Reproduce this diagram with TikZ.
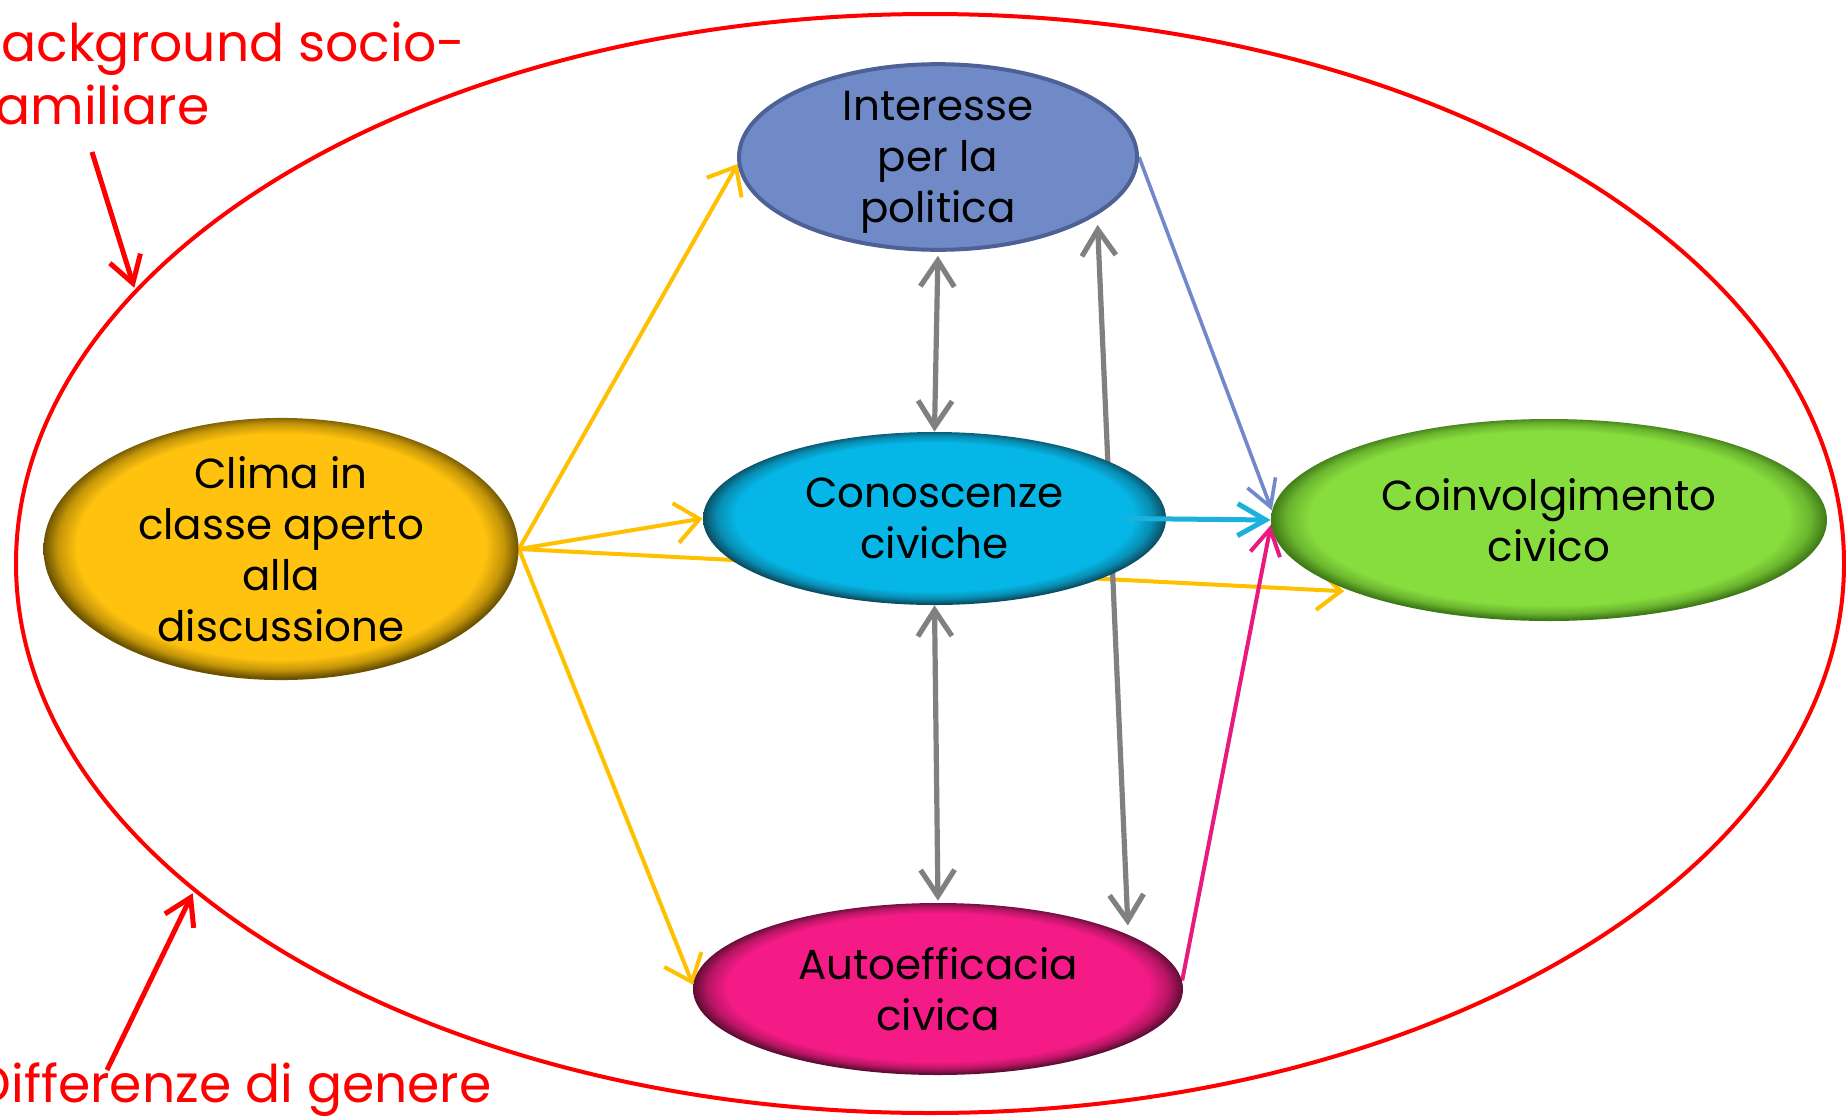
\documentclass[tikz,border=0pt]{standalone}
\usepackage{fontspec}
\setmainfont{Poppins}
\usetikzlibrary{arrows.meta,shapes.geometric}
\pgfdeclarelayer{bg}
\pgfsetlayers{bg,main}

\definecolor{climaC}{HTML}{FFC20E}
\definecolor{climaE}{HTML}{6B5200}
\definecolor{conoC}{HTML}{06B6E6}
\definecolor{conoE}{HTML}{0B4E63}
\definecolor{coinvC}{HTML}{88DD3E}
\definecolor{coinvE}{HTML}{3F7A18}
\definecolor{autoC}{HTML}{F41B86}
\definecolor{autoE}{HTML}{5E0D33}
\definecolor{interC}{HTML}{708AC8}
\definecolor{interE}{HTML}{4E6196}
\definecolor{yel}{HTML}{FFC000}
\definecolor{gry}{HTML}{808080}
\definecolor{cyn}{HTML}{1BB1DD}
\definecolor{blu}{HTML}{7189CC}
\definecolor{pnk}{HTML}{E8197F}
\definecolor{lblred}{HTML}{FF0000}

\pgfdeclareradialshading{climaS}{\pgfpoint{0bp}{0.8bp}}{color(0bp)=(climaC); color(21.5bp)=(climaC); color(23.5bp)=(climaC!60!climaE); color(25bp)=(climaE); color(50bp)=(climaE)}
\pgfdeclareradialshading{conoS}{\pgfpoint{0bp}{0.8bp}}{color(0bp)=(conoC); color(21.5bp)=(conoC); color(23.5bp)=(conoC!60!conoE); color(25bp)=(conoE); color(50bp)=(conoE)}
\pgfdeclareradialshading{coinvS}{\pgfpoint{0bp}{0.8bp}}{color(0bp)=(coinvC); color(21.5bp)=(coinvC); color(23.5bp)=(coinvC!60!coinvE); color(25bp)=(coinvE); color(50bp)=(coinvE)}
\pgfdeclareradialshading{autoS}{\pgfpoint{0bp}{0.8bp}}{color(0bp)=(autoC); color(21.5bp)=(autoC); color(23.5bp)=(autoC!60!autoE); color(25bp)=(autoE); color(50bp)=(autoE)}

\tikzset{
  oval/.style={ellipse, inner sep=0pt, align=center, text=black,
    font=\fontsize{21}{25.5}\selectfont},
  lbl/.style={text=lblred, inner sep=0pt, font=\fontsize{26}{32}\selectfont},
  yarr/.style={draw=yel, line width=2pt, -{Straight Barb[length=12pt,width=20pt]}},
  garr/.style={draw=gry, line width=2.6pt,
    {Straight Barb[length=13pt,width=17pt]}-{Straight Barb[length=13pt,width=17pt]}},
  carr/.style={draw=cyn, line width=2.5pt, -{Straight Barb[length=14pt,width=16pt]}},
  barr/.style={draw=blu, line width=1.8pt, -{Straight Barb[length=13pt,width=15pt]}},
  parr/.style={draw=pnk, line width=2pt, -{Straight Barb[length=13pt,width=15pt]}},
  rarr/.style={draw=lblred, line width=2.5pt, -{Straight Barb[length=13pt,width=16pt]}},
}

\begin{document}
\begin{tikzpicture}[x=0.5pt,y=-0.5pt]
\useasboundingbox (0,0) rectangle (1846,1119);
\clip (0,0) rectangle (1846,1119);
\begin{pgfonlayer}{bg}
  \fill[white] (0,0) rectangle (1846,1119);
\end{pgfonlayer}

% outer frame
\node[ellipse, draw=lblred, line width=2pt, inner sep=0pt,
  minimum width=914pt, minimum height=549.5pt] (frame) at (930,563.5) {};

% nodes
\node[oval, minimum width=199pt, minimum height=84pt, fill=interC, draw=interE, line width=2pt,
  text depth=-3pt]
  (inter) at (938,157) {Interesse\\per la\\politica};
\node[oval, minimum width=237.5pt, minimum height=117pt, shade, shading=climaS]
  (clima) at (281,549) {Clima in\\classe aperto\\alla\\discussione};
\node[oval, minimum width=231.5pt, minimum height=86.5pt, shade, shading=conoS]
  (cono) at (934.5,518.5) {Conoscenze\\civiche};
\node[oval, minimum width=278pt, minimum height=101pt, shade, shading=coinvS]
  (coinv) at (1549,520) {Coinvolgimento\\civico};
\node[oval, minimum width=245pt, minimum height=86pt, shade, shading=autoS]
  (auto) at (938,989) {Autoefficacia\\civica};

% labels
\node[lbl, anchor=base west] (bgs1) at (1,61) {\llap{B}ackground socio-};
\node[lbl, anchor=base west] (bgs2) at (-5,124) {\llap{F}amiliare};
\node[lbl, anchor=base east] (dg) at (492,1102) {Differenze di genere};

\coordinate (bgsT) at (92,152);
\coordinate (dgT) at (107,1070);
\draw[rarr, shorten >=1pt] (bgsT) -- (frame.161.6);
\draw[rarr, shorten >=1pt] (dgT) -- (frame.204.9);

\begin{pgfonlayer}{bg}
  \draw[yarr] (clima.east) -- (inter.182);
  \draw[yarr] (clima.east) -- (cono.west);
  \draw[yarr, shorten >=4pt] (clima.east) -- (coinv.200);
  \draw[yarr] (clima.east) -- (auto.179);
  \draw[garr, shorten <=2pt] (inter.south) -- (cono.north);
  \draw[garr, shorten >=1pt] (cono.south) -- (auto.north);
  \draw[garr, shorten <=5pt, shorten >=4.5pt] (inter.-20) -- (auto.16.8);
  \draw[barr] (inter.east) -- (coinv.178.5);
  \draw[parr] (auto.2) -- (coinv.181.5);
\end{pgfonlayer}
\draw[carr] ([xshift=95pt]cono.center) -- (coinv.west);
\end{tikzpicture}
\end{document}
